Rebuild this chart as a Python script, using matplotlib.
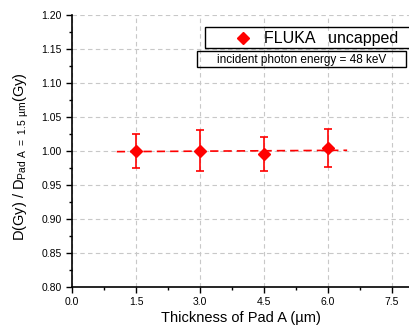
import numpy as np
import matplotlib
matplotlib.use("Agg")
import matplotlib.pyplot as plt
from matplotlib.ticker import MultipleLocator

plt.rcParams["font.family"] = ["Liberation Sans", "DejaVu Sans"]

thickness = [1.5, 3.0, 4.5, 6.0]
dose_ratio = [1.000, 1.000, 0.996, 1.004]
err_low = [0.025, 0.030, 0.025, 0.027]
err_high = [0.025, 0.031, 0.025, 0.028]
fit_x = [1.05, 6.45]
fit_y = [0.999, 1.001]

fig = plt.figure(figsize=(4.09, 3.34), dpi=100)
ax = fig.add_axes([0.176, 0.141, 0.824, 0.814])

ax.plot(fit_x, fit_y, color="red", ls=(0, (5, 3)), lw=1.2, zorder=2)
ax.errorbar(thickness, dose_ratio, yerr=[err_low, err_high], fmt="D", color="red",
            ms=6, capsize=3, elinewidth=1.2, capthick=1.2, zorder=3)

ax.set_xlim(0, 7.9)
ax.set_ylim(0.80, 1.20)
ax.xaxis.set_major_locator(MultipleLocator(1.5))
ax.xaxis.set_minor_locator(MultipleLocator(0.75))
ax.yaxis.set_major_locator(MultipleLocator(0.05))
ax.yaxis.set_minor_locator(MultipleLocator(0.025))
ax.xaxis.set_major_formatter(matplotlib.ticker.FormatStrFormatter("%.1f"))
ax.yaxis.set_major_formatter(matplotlib.ticker.FormatStrFormatter("%.2f"))
ax.tick_params(labelsize=7.5, direction="out", length=4, width=1)
ax.tick_params(which="minor", direction="out", length=2.5, width=1)
for s in ["top", "right"]:
    ax.spines[s].set_visible(False)
ax.spines["left"].set_linewidth(1.2)
ax.spines["bottom"].set_linewidth(1.2)
ax.grid(True, which="major", color="#c8c8c8", ls=(0, (4, 3)), lw=0.8)
ax.set_axisbelow(True)

ax.set_xlabel("Thickness of Pad A (µm)", fontsize=10.5, labelpad=3)
ax.set_ylabel("D(Gy) / D$_{\\mathregular{Pad\\ A\\ =\\ 1.5\\ µm}}$(Gy)", fontsize=10.5)
ax.yaxis.set_label_coords(-0.122, 0.48)

# legend box
fig.patches.append(plt.Rectangle((205 / 409, 1 - 48 / 334), 210 / 409, 21 / 334,
                                 transform=fig.transFigure, fill=False, ec="black", lw=1))
fig.lines.append(plt.Line2D([243 / 409], [1 - 38 / 334], transform=fig.transFigure,
                            marker="D", color="red", ms=6))
fig.text(264 / 409, 1 - 38 / 334, "FLUKA   uncapped", fontsize=11.5, va="center", ha="left")
fig.patches.append(plt.Rectangle((197 / 409, 1 - 67 / 334), 209 / 409, 16 / 334,
                                 transform=fig.transFigure, fill=False, ec="black", lw=1))
fig.text(302 / 409, 1 - 59.5 / 334, "incident photon energy = 48 keV", fontsize=8.5,
         va="center", ha="center")

fig.savefig("out.png", dpi=100)
